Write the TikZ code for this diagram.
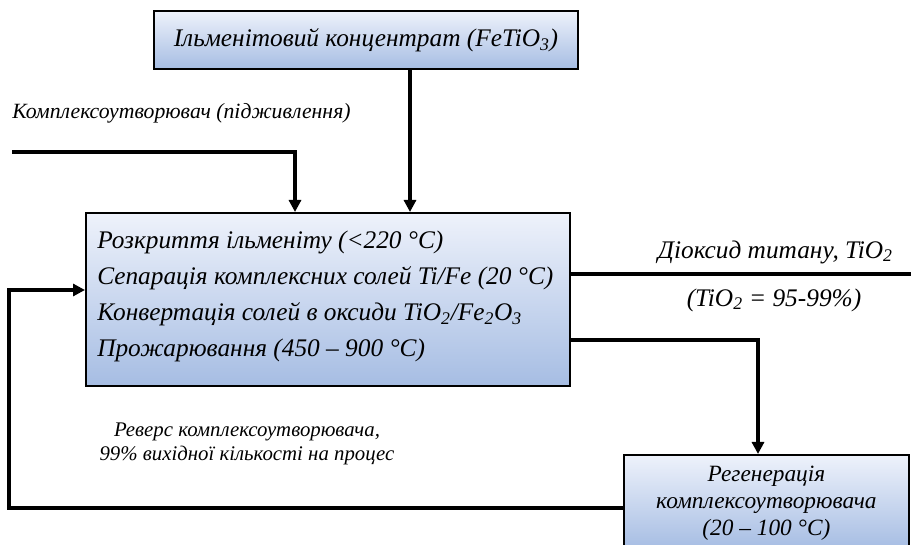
\documentclass[tikz,border=0pt]{standalone}
\usepackage{fontspec}
\setmainfont{Liberation Serif}
\usetikzlibrary{arrows.meta,positioning}
\definecolor{boxtop}{HTML}{EEF2FB}
\definecolor{boxbot}{HTML}{A6BDE3}
\tikzset{
  procbox/.style={draw=black, line width=1.4pt, top color=boxtop, bottom color=boxbot, inner sep=0pt},
  flow/.style={line width=2.4pt, -{Triangle[length=9pt,width=9pt]}},
  flowline/.style={line width=2.4pt},
  bigtxt/.style={font=\fontsize{19}{23}\selectfont\itshape, inner sep=0pt},
  smalltxt/.style={font=\fontsize{16.3}{20}\selectfont\itshape, inner sep=0pt, align=center},
  regtxt/.style={font=\fontsize{17.5}{20}\selectfont\itshape, inner sep=0pt, align=center},
  rettxt/.style={font=\fontsize{15.6}{17.5}\selectfont\itshape, inner sep=0pt, align=center}
}
\begin{document}
\begin{tikzpicture}[x=0.75pt,y=-0.75pt]
  \useasboundingbox (0,0) rectangle (911,545);
  \clip (0,0) rectangle (911,545);
  \def\steplines{Розкриття ільменіту (<220 °C),Сепарація комплексних солей Ti/Fe (20 °C),Конвертація солей в оксиди TiO\textsubscript{2}/Fe\textsubscript{2}O\textsubscript{3},Прожарювання (450 – 900 °C)}

  % boxes
  \node[procbox, anchor=north west, minimum width=318pt, minimum height=43.5pt] (conc) at (153,10) {};
  \node[bigtxt] (conctxt) at (conc.center) {Ільменітовий концентрат (FeTiO\textsubscript{3})};
  \node[procbox, anchor=north west, minimum width=363pt, minimum height=129.75pt] (main) at (85,212) {};
  \foreach \line [count=\i from 1] in \steplines {
    \node[bigtxt, anchor=west] (ln\i) at (97,{206+36*\i}) {\line};
  }
  \node[procbox, anchor=north west, minimum width=213.75pt, minimum height=70.5pt] (regen) at (623,454) {};
  \node[regtxt] (regentxt) at ([yshift=-1pt]regen.center) {Регенерація\\комплексоутворювача\\(20 – 100 °C)};

  % free ends
  \coordinate (in1) at (410,212);
  \coordinate (feed) at (12,152);
  \coordinate (in2) at (295,212);
  \coordinate (out1) at (911,274);
  \coordinate (tap) at (758,340);
  \coordinate (retlow) at (9,508);
  \coordinate (ret) at (9,290);

  % connectors
  \draw[flow] (conc.south -| in1) -- (in1);
  \draw[flow] (feed) -| (in2);
  \draw[flowline] (main.east |- out1) -- (out1);
  \draw[flow] (main.east |- tap) -| (regen.north -| tap);
  \draw[flow] (regen.west |- retlow) -| (ret) -- (main.west |- ret);

  % labels
  \node[smalltxt, anchor=west] (feedlbl) at (12,113) {Комплексоутворювач (підживлення)};
  \node[bigtxt, anchor=east] (tio2lbl) at (893,252) {Діоксид титану, TiO\textsubscript{2}};
  \node[bigtxt] (purity) at (774,300) {(TiO\textsubscript{2} = 95-99\%)};
  \node[rettxt] (retlbl) at (247,444) {Реверс комплексоутворювача,\\99\% вихідної кількості на процес};
\end{tikzpicture}
\end{document}
